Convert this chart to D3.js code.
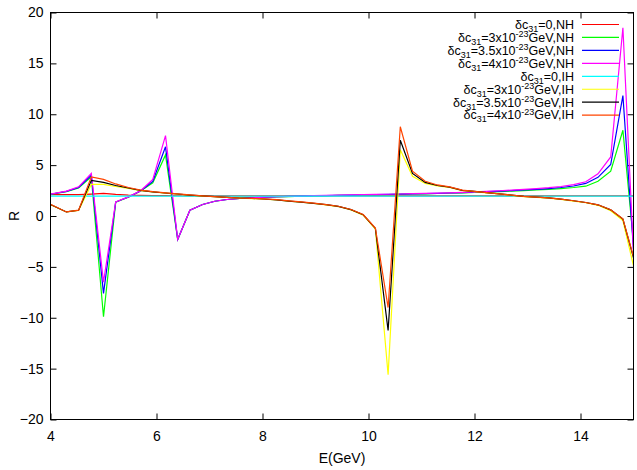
<!DOCTYPE html>
<html><head><meta charset="utf-8">
<script src="https://cdn.jsdelivr.net/npm/d3@7"></script>
<style>
body{margin:0;background:#fff;}
text{font-family:"Liberation Sans",Arial,sans-serif;}
</style></head>
<body><svg id="c" width="637" height="470"></svg>
<script>
// Energies (GeV)
const energy = [4.00,4.30,4.53,4.77,5.00,5.23,5.47,5.70,5.93,6.17,6.40,6.63,6.87,7.10,7.33,7.57,7.80,8.03,8.27,8.50,8.73,8.97,9.20,9.43,9.67,9.90,10.13,10.37,10.60,10.83,11.07,11.30,11.53,11.77,12.00,12.23,12.47,12.70,12.93,13.17,13.40,13.63,13.87,14.10,14.33,14.57,14.80,15.00];

// NH series
const nh0   = [2.10,2.10,2.10,2.15,2.22,2.12,2.05,2.02,2.00,2.00,1.99,1.98,1.98,1.97,1.97,1.97,1.97,1.97,1.97,1.97,1.97,1.97,1.97,1.97,1.97,1.97,1.97,1.97,1.97,1.97,1.97,1.97,1.97,1.97,1.97,1.97,1.97,1.97,1.97,1.97,1.97,1.97,1.97,1.97,1.97,1.97,1.97,1.97];
const nh30  = [2.12,2.40,2.75,3.85,-9.90,1.35,1.85,2.45,3.26,6.00,-2.30,0.57,1.13,1.45,1.62,1.72,1.79,1.84,1.88,1.91,1.94,1.97,1.99,2.02,2.04,2.07,2.09,2.11,2.13,2.16,2.18,2.21,2.24,2.27,2.31,2.35,2.40,2.45,2.50,2.56,2.62,2.70,2.80,2.93,3.42,4.40,8.43,-2.60];
const nh35  = [2.14,2.42,2.80,4.00,-7.60,1.37,1.87,2.47,3.40,6.80,-2.30,0.57,1.13,1.45,1.62,1.72,1.79,1.85,1.89,1.92,1.95,1.99,2.01,2.04,2.06,2.09,2.11,2.13,2.15,2.18,2.20,2.23,2.26,2.30,2.34,2.39,2.44,2.50,2.56,2.62,2.70,2.80,2.95,3.20,3.80,5.06,11.84,-3.30];
const nh40  = [2.15,2.45,2.87,4.20,-6.50,1.38,1.88,2.48,3.60,7.90,-2.30,0.57,1.13,1.45,1.62,1.72,1.80,1.86,1.90,1.93,1.96,2.00,2.02,2.05,2.07,2.10,2.12,2.14,2.16,2.19,2.22,2.25,2.28,2.32,2.37,2.42,2.48,2.55,2.62,2.70,2.78,2.90,3.08,3.36,4.14,5.80,18.50,-3.60];

// IH series
const ih0   = [1.96,1.96,1.96,1.96,1.96,1.96,1.96,1.96,1.96,1.95,1.95,1.95,1.95,1.95,1.95,1.95,1.95,1.95,1.95,1.95,1.95,1.95,1.95,1.95,1.95,1.95,1.95,1.95,1.95,1.95,1.95,1.95,1.95,1.95,1.95,1.95,1.95,1.95,1.95,1.95,1.95,1.95,1.95,1.95,1.95,1.95,1.95,1.95];
const ih30  = [1.10,0.40,0.55,3.10,3.10,2.90,2.70,2.50,2.36,2.24,2.14,2.04,1.96,1.89,1.82,1.76,1.71,1.65,1.57,1.45,1.35,1.23,1.09,0.93,0.60,0.08,-1.30,-15.60,6.50,3.90,3.20,2.95,2.80,2.50,2.40,2.28,2.16,2.03,1.91,1.84,1.75,1.62,1.47,1.30,1.05,0.52,-0.45,-4.90];
const ih35  = [1.13,0.40,0.56,3.50,3.30,3.00,2.75,2.52,2.38,2.26,2.16,2.06,1.97,1.90,1.83,1.77,1.73,1.67,1.59,1.47,1.37,1.25,1.11,0.95,0.62,0.12,-1.22,-11.25,7.45,4.18,3.30,3.00,2.84,2.52,2.42,2.30,2.18,2.05,1.93,1.86,1.78,1.65,1.50,1.33,1.10,0.60,-0.30,-4.10];
const ih40  = [1.16,0.40,0.57,3.85,3.60,3.15,2.80,2.55,2.40,2.28,2.17,2.07,1.98,1.90,1.83,1.77,1.74,1.68,1.60,1.48,1.38,1.26,1.12,0.96,0.64,0.15,-1.18,-9.00,8.77,4.40,3.42,3.05,2.87,2.54,2.42,2.30,2.18,2.05,1.93,1.86,1.78,1.65,1.50,1.33,1.10,0.62,-0.28,-4.00];

const seriesValues = [nh0, nh30, nh35, nh40, ih0, ih30, ih35, ih40];
const seriesColors = ["#ff0000","#00ff00","#0000ff","#ff00ff","#00ffff","#ffff00","#000000","#ff4500"];
const legendMantissa = ["0","3x10","3.5x10","4x10","0","3x10","3.5x10","4x10"];
const legendExponent = ["","-23","-23","-23","","-23","-23","-23"];
const legendSuffix = [",NH","GeV,NH","GeV,NH","GeV,NH",",IH","GeV,IH","GeV,IH","GeV,IH"];

const xTicks = [4,6,8,10,12,14];
const yTicks = [-20,-15,-10,-5,0,5,10,15,20];

const svg = d3.select("#c");
const L = 50.5, R = 633.5, T = 12.5, B = 419.5;
const x = d3.scaleLinear().domain([4,15]).range([L,R]);
const y = d3.scaleLinear().domain([-20,20]).range([B,T]);

svg.append("clipPath").attr("id","pc").append("rect")
  .attr("x",L).attr("y",T).attr("width",R-L).attr("height",B-T);

const fs = "14px";
const axB = d3.axisBottom(x).tickValues(xTicks).tickSizeInner(-6).tickSizeOuter(0).tickPadding(12).tickFormat(d3.format("d"));
const axT = d3.axisTop(x).tickValues(xTicks).tickSizeInner(-6).tickSizeOuter(0).tickFormat("");
const axL = d3.axisLeft(y).tickValues(yTicks).tickSizeInner(-6).tickSizeOuter(0).tickPadding(7).tickFormat(d3.format("d"));
const axR = d3.axisRight(y).tickValues(yTicks).tickSizeInner(-6).tickSizeOuter(0).tickFormat("");

function styleAx(g){
  g.select(".domain").remove();
  g.selectAll("line").attr("stroke","#000").attr("stroke-width",1);
  g.selectAll("text").attr("font-size",fs).attr("font-family","Liberation Sans, Arial, sans-serif").attr("fill","#000");
}
svg.append("g").attr("transform",`translate(0,${B})`).call(axB).call(styleAx)
  .selectAll("text").attr("dy","0.71em");
svg.append("g").attr("transform",`translate(0,${T})`).call(axT).call(styleAx);
svg.append("g").attr("transform",`translate(${L},0)`).call(axL).call(styleAx);
svg.append("g").attr("transform",`translate(${R},0)`).call(axR).call(styleAx);

const line = d3.line().x((d,i)=>x(energy[i])).y(d=>y(d));
const plot = svg.append("g").attr("clip-path","url(#pc)");
seriesValues.forEach((vals,k)=>{
  plot.append("path").datum(vals).attr("d",line)
    .attr("fill","none").attr("stroke",seriesColors[k]).attr("stroke-width",1.2)
    .attr("stroke-linejoin","miter");
});

svg.append("rect").attr("x",L).attr("y",T).attr("width",R-L).attr("height",B-T)
  .attr("fill","none").attr("stroke","#000").attr("stroke-width",1);

svg.append("text").attr("x",(L+R)/2).attr("y",463).attr("text-anchor","middle")
  .attr("font-size",fs).text("E(GeV)");
svg.append("text").attr("transform","translate(19,216) rotate(-90)").attr("text-anchor","middle")
  .attr("font-size",fs).text("R");

const lg = svg.append("g");
seriesColors.forEach((c,k)=>{
  const yy = 24.5 + k*12.95;
  const t = lg.append("text").attr("x",574).attr("y",yy+4.3).attr("text-anchor","end").attr("font-size","12.5px");
  t.append("tspan").text("δc");
  t.append("tspan").attr("dy",3).attr("font-size","9px").text("31");
  t.append("tspan").attr("dy",-3).text("="+legendMantissa[k]);
  if(legendExponent[k]){
    t.append("tspan").attr("dy",-4.5).attr("font-size","9px").text(legendExponent[k]);
    t.append("tspan").attr("dy",4.5).text(legendSuffix[k]);
  } else {
    t.append("tspan").text(legendSuffix[k]);
  }
  lg.append("line").attr("x1",582).attr("x2",619).attr("y1",yy).attr("y2",yy)
    .attr("stroke",c).attr("stroke-width",1.2);
});
</script></body></html>
